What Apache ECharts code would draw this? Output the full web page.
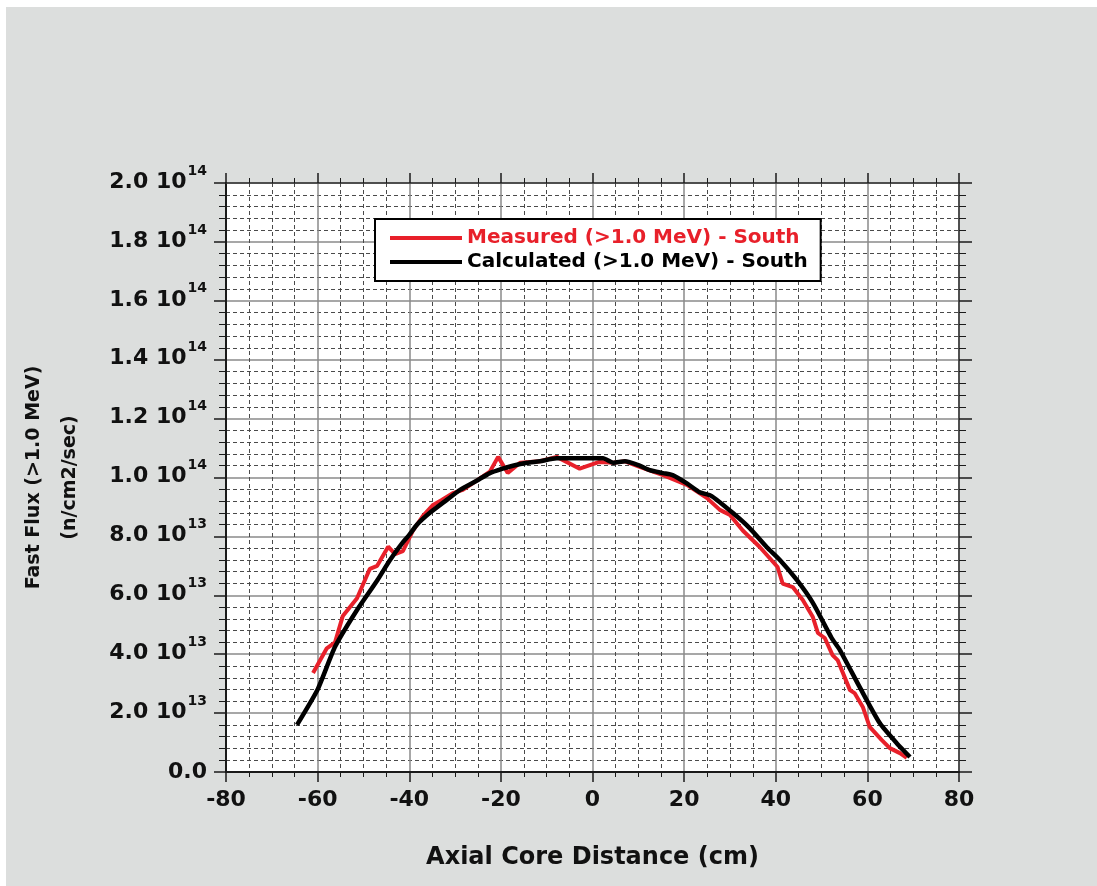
<!DOCTYPE html>
<html>
<head>
<meta charset="utf-8">
<script src="https://cdn.jsdelivr.net/npm/echarts@6/dist/echarts.min.js"></script>
<style>
  html, body { margin: 0; padding: 0; background: #fff; }
  #chart { width: 1097px; height: 886px; }
</style>
</head>
<body>
<div id="chart"></div>
<script>
// axial position (cm) and fast flux in units of 1e13 n/cm2/sec
const measuredX = [-61, -58, -56.2, -54.5, -51.4, -48.6, -47, -44.6, -43.1, -41.4, -39.2, -37, -34.8, -32.9, -30.5, -28.3, -25.2, -22.4, -20.6, -18.5, -15.8, -11.5, -7.8, -2.8, 1.5, 4.5, 7.1, 10.3, 15.4, 20.6, 25, 27.8, 30, 32.8, 36.5, 40.4, 41.5, 43.7, 45.9, 48.1, 49.2, 50.7, 52.4, 53.5, 56.2, 57.2, 59, 60.5, 63.1, 64.9, 67.1, 68.6]
const measuredFlux = [3.36, 4.2, 4.4, 5.3, 5.9, 6.9, 7.0, 7.65, 7.4, 7.5, 8.2, 8.7, 9.07, 9.24, 9.47, 9.58, 9.9, 10.2, 10.7, 10.15, 10.5, 10.55, 10.7, 10.3, 10.53, 10.5, 10.55, 10.36, 10.08, 9.75, 9.3, 8.9, 8.73, 8.2, 7.64, 6.96, 6.4, 6.28, 5.84, 5.26, 4.72, 4.55, 3.97, 3.8, 2.78, 2.68, 2.21, 1.53, 1.09, 0.81, 0.64, 0.48]

const calcX = [-64.5, -60, -56.2, -51.4, -47, -44.2, -41.4, -40, -38.3, -35.5, -31.8, -28.9, -25.2, -22.4, -19.6, -17.4, -14.3, -11.5, -7.8, 2.3, 4.5, 7.1, 10.3, 12.5, 15.4, 17.5, 20.6, 23.4, 26, 30.6, 34.3, 38, 40.9, 44.6, 48.1, 52.2, 54, 58.3, 62.7, 66.4, 69.3]
const calcFlux = [1.6, 2.8, 4.25, 5.5, 6.5, 7.2, 7.8, 8.05, 8.4, 8.8, 9.24, 9.58, 9.9, 10.15, 10.3, 10.4, 10.5, 10.55, 10.65, 10.65, 10.5, 10.55, 10.4, 10.25, 10.15, 10.08, 9.8, 9.5, 9.37, 8.8, 8.28, 7.64, 7.2, 6.52, 5.74, 4.55, 4.14, 2.89, 1.66, 0.98, 0.51]

const yTickMantissa = ['0.0', '2.0', '4.0', '6.0', '8.0', '1.0', '1.2', '1.4', '1.6', '1.8', '2.0']
const yTickExponent = ['', '13', '13', '13', '13', '14', '14', '14', '14', '14', '14']

const seriesNames = ['Measured (>1.0 MeV) - South', 'Calculated (>1.0 MeV) - South']
const RED = '#e8202a'
const FONT = 'DejaVu Sans'

const chart = echarts.init(document.getElementById('chart'))

const gridLine = { show: true, lineStyle: { color: '#8a8a8a', width: 1.5 } }
const minorLine = { show: true, lineStyle: { color: '#4a4a4a', width: 1, type: [4, 3] } }
const frameLine = { show: true, onZero: false, lineStyle: { color: '#1a1a1a', width: 2 } }

const option = {
  backgroundColor: '#dcdedd',
  animation: false,
  graphic: [
    { type: 'rect', shape: { x: 0, y: 0, width: 1097, height: 7 }, style: { fill: '#fff' } },
    { type: 'rect', shape: { x: 0, y: 0, width: 6, height: 886 }, style: { fill: '#fff' } }
  ],
  grid: {
    left: 226, right: 138, top: 183, bottom: 114,
    show: true, backgroundColor: '#fff', borderWidth: 0
  },
  legend: {
    orient: 'vertical',
    left: 375, top: 219,
    padding: [9, 13, 9, 15],
    backgroundColor: '#fff',
    borderColor: '#000',
    borderWidth: 2,
    borderRadius: 0,
    icon: 'rect',
    itemWidth: 72,
    itemHeight: 4,
    itemGap: 4,
    textStyle: { fontFamily: FONT, fontWeight: 'bold', fontSize: 20 },
    data: [
      { name: seriesNames[0], textStyle: { color: RED } },
      { name: seriesNames[1], textStyle: { color: '#000' } }
    ]
  },
  xAxis: [
    {
      type: 'value', min: -80, max: 80, interval: 20,
      name: 'Axial Core Distance (cm)',
      nameLocation: 'middle', nameGap: 74,
      nameTextStyle: { fontFamily: FONT, fontWeight: 'bold', fontSize: 24, color: '#111' },
      axisLine: frameLine,
      axisTick: { show: true, length: 10, lineStyle: { color: '#1a1a1a', width: 1.5 } },
      minorTick: { show: true, splitNumber: 4, length: 5, lineStyle: { color: '#1a1a1a', width: 1 } },
      axisLabel: { fontFamily: FONT, fontWeight: 'bold', fontSize: 22, color: '#111', margin: 17 },
      splitLine: gridLine,
      minorSplitLine: minorLine
    },
    {
      type: 'value', position: 'top', min: -80, max: 80, interval: 20,
      axisLine: { show: true, onZero: false, lineStyle: { color: '#333', width: 1.5 } },
      axisTick: { show: true, length: 10, lineStyle: { color: '#1a1a1a', width: 1.5 } },
      minorTick: { show: true, splitNumber: 4, length: 5, lineStyle: { color: '#1a1a1a', width: 1 } },
      axisLabel: { show: false },
      splitLine: { show: false }
    }
  ],
  yAxis: [
    {
      type: 'value', min: 0, max: 20, interval: 2,
      name: 'Fast Flux (>1.0 MeV)\n(n/cm2/sec)',
      nameLocation: 'middle', nameRotate: 90, nameGap: 138,
      nameTextStyle: { fontFamily: FONT, fontWeight: 'bold', fontSize: 19, lineHeight: 36, color: '#111', align: 'center' },
      axisLine: frameLine,
      axisTick: { show: true, length: 12, lineStyle: { color: '#1a1a1a', width: 1.5 } },
      minorTick: { show: true, splitNumber: 5, length: 7, lineStyle: { color: '#1a1a1a', width: 1 } },
      axisLabel: {
        margin: 19,
        color: '#111',
        formatter: (v) => {
          const i = Math.round(v / 2)
          if (!yTickExponent[i]) return '{z|' + yTickMantissa[i] + '}'
          return '{a|' + yTickMantissa[i] + ' 10}{sup|' + yTickExponent[i] + '}'
        },
        rich: {
          z: { fontFamily: FONT, fontWeight: 'bold', fontSize: 22, lineHeight: 24, color: '#111' },
          a: { fontFamily: FONT, fontWeight: 'bold', fontSize: 22, lineHeight: 24, color: '#111',
               verticalAlign: 'bottom', padding: [0, 0, 2, 0] },
          sup: { fontFamily: FONT, fontWeight: 'bold', fontSize: 14, lineHeight: 14, color: '#111',
                 verticalAlign: 'bottom', padding: [0, 0, 17, 1] }
        }
      },
      splitLine: gridLine,
      minorSplitLine: minorLine
    },
    {
      type: 'value', position: 'right', min: 0, max: 20, interval: 2,
      axisLine: { show: true, onZero: false, lineStyle: { color: '#333', width: 1.5 } },
      axisTick: { show: true, length: 13, lineStyle: { color: '#1a1a1a', width: 1.5 } },
      minorTick: { show: true, splitNumber: 5, length: 7, lineStyle: { color: '#1a1a1a', width: 1 } },
      axisLabel: { show: false },
      splitLine: { show: false }
    }
  ],
  series: [
    {
      name: seriesNames[0],
      type: 'line',
      showSymbol: false,
      color: RED,
      lineStyle: { color: RED, width: 4 },
      data: measuredX.map((x, i) => [x, measuredFlux[i]])
    },
    {
      name: seriesNames[1],
      type: 'line',
      showSymbol: false,
      smooth: 0.2,
      color: '#000',
      lineStyle: { color: '#000', width: 4.5 },
      data: calcX.map((x, i) => [x, calcFlux[i]])
    }
  ]
}

chart.setOption(option)
</script>
</body>
</html>
